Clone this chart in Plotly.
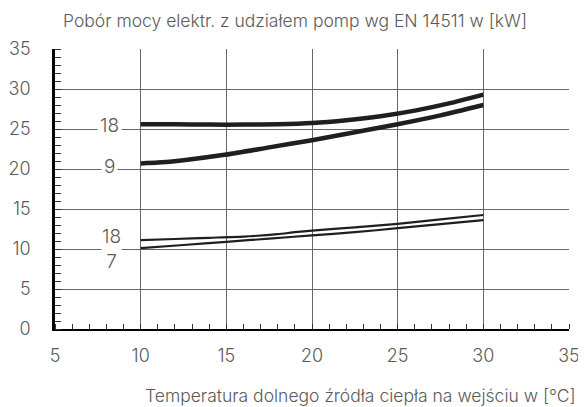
import plotly.graph_objects as go

# Dane
temp_18_hi = [10, 12, 14, 16, 18, 20, 22, 24, 26, 28, 30]
moc_18_hi = [25.6, 25.6, 25.55, 25.55, 25.6, 25.75, 26.1, 26.6, 27.3, 28.2, 29.3]

temp_9 = [10, 11, 12.5, 15, 17.5, 20, 22.5, 25, 27.5, 30]
moc_9 = [20.7, 20.8, 21.1, 21.8, 22.7, 23.6, 24.6, 25.6, 26.7, 28.0]

temp_18_lo = [10, 12, 14, 16, 18, 19, 20, 22.5, 25, 27.5, 30]
moc_18_lo = [11.1, 11.25, 11.4, 11.55, 11.85, 12.1, 12.3, 12.7, 13.15, 13.7, 14.25]

temp_7 = [10, 12.5, 15, 17.5, 20, 22.5, 25, 27.5, 30]
moc_7 = [10.1, 10.5, 10.9, 11.3, 11.7, 12.1, 12.6, 13.1, 13.6]

tick_vals = [0, 5, 10, 15, 20, 25, 30, 35]

FONT = 'Inter, Liberation Sans, Arial, sans-serif'
TEXT = '#5a5a5a'
LINE = '#1f1f1f'

fig = go.Figure()

for x, y, w in [(temp_18_hi, moc_18_hi, 4.5), (temp_9, moc_9, 4.5),
                (temp_18_lo, moc_18_lo, 2.2), (temp_7, moc_7, 2.2)]:
    fig.add_trace(go.Scatter(x=x, y=y, mode='lines',
                             line=dict(color=LINE, width=w, shape='spline', smoothing=0.6),
                             showlegend=False, hoverinfo='skip'))

# Etykiety krzywych
labels = [(25.4, '18'), (20.3, '9')]
for yv, txt in labels:
    fig.add_annotation(x=8.2, y=yv, text=txt, showarrow=False, xref='x', yref='y',
                       font=dict(size=19, color=TEXT, family=FONT, weight=300),
                       bgcolor='white', borderpad=2)
fig.add_annotation(x=8.3, y=10.0, text='18<br>7', showarrow=False, xref='x', yref='y',
                   font=dict(size=19, color=TEXT, family=FONT, weight=300),
                   bgcolor='white', borderpad=0)

fig.add_annotation(x=0.012, y=1.147, xref='paper', yref='paper', xanchor='left',
                   text='Pobór mocy elektr. z udziałem pomp wg EN 14511 w [kW]',
                   showarrow=False, font=dict(size=17.5, color=TEXT, family=FONT, weight=300))
fig.add_annotation(x=1.0175, y=-0.282, xref='paper', yref='paper', xanchor='right',
                   text='Temperatura dolnego źródła ciepła na wejściu w [°C]',
                   showarrow=False, font=dict(size=17.5, color=TEXT, family=FONT, weight=300))

# strona ma 8px marginesu, więc wymiary figury są o tyle mniejsze
fig.update_layout(
    width=578, height=399,
    margin=dict(l=47, r=17, t=41, b=78),
    plot_bgcolor='white', paper_bgcolor='white',
    font=dict(family=FONT, color=TEXT, size=18, weight=300),
)
fig.update_xaxes(
    range=[5, 35], tickvals=tick_vals[1:], showgrid=True, gridcolor='#666666', gridwidth=1,
    zeroline=False, showline=True, linecolor='black', linewidth=2, automargin=False,
    ticks='', ticklabelstandoff=9, tickfont=dict(size=18, color=TEXT, weight=300),
    minor=dict(dtick=1, tick0=5, ticks='inside', ticklen=5, tickcolor='#333333', showgrid=False),
)
fig.update_yaxes(
    range=[0, 35], tickvals=tick_vals, showgrid=True, gridcolor='#666666', gridwidth=1,
    zeroline=False, showline=True, linecolor='black', linewidth=2.5, automargin=False,
    ticks='', ticklabelstandoff=18, tickfont=dict(size=18, color=TEXT, weight=300),
    minor=dict(dtick=1, tick0=0, ticks='inside', ticklen=6, tickcolor='#333333', showgrid=False),
)

fig.write_html('out.html')
